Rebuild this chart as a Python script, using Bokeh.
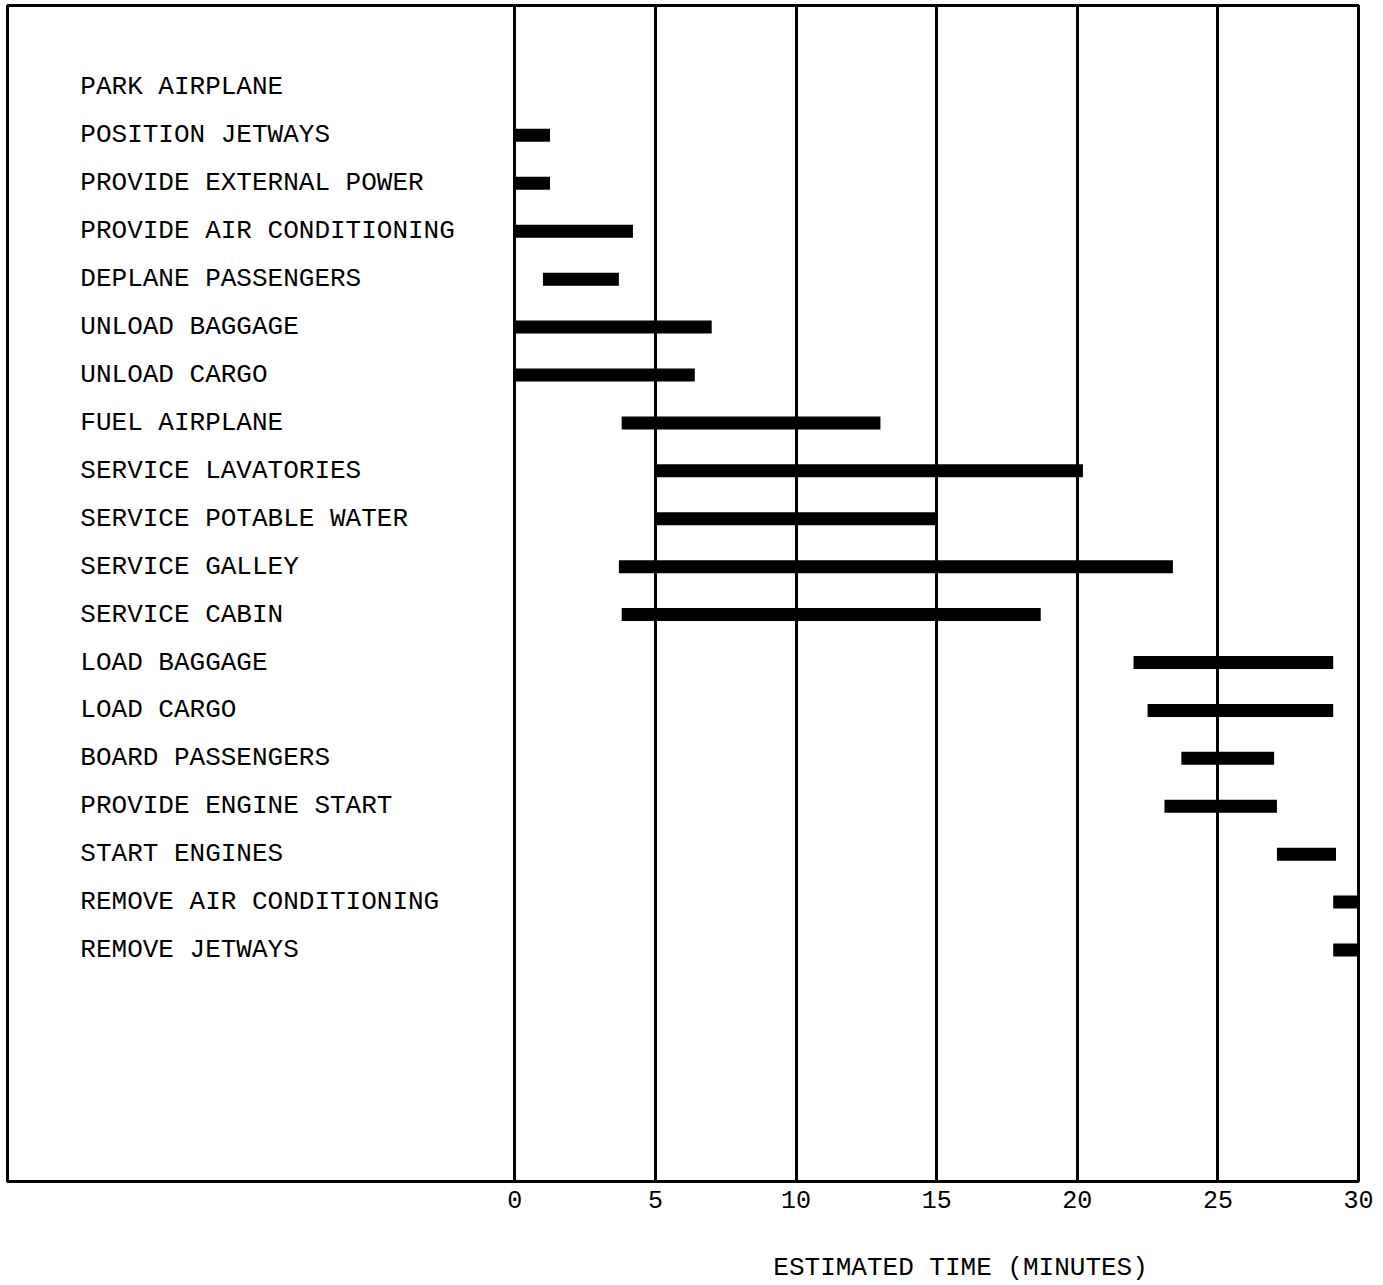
from bokeh.plotting import figure
from bokeh.models import Range1d, FixedTicker, ColumnDataSource, LinearAxis
from bokeh.core.properties import value
from bokeh.embed import file_html
from bokeh.resources import INLINE

tasks = [
    "PARK AIRPLANE", "POSITION JETWAYS", "PROVIDE EXTERNAL POWER",
    "PROVIDE AIR CONDITIONING", "DEPLANE PASSENGERS", "UNLOAD BAGGAGE",
    "UNLOAD CARGO", "FUEL AIRPLANE", "SERVICE LAVATORIES",
    "SERVICE POTABLE WATER", "SERVICE GALLEY", "SERVICE CABIN",
    "LOAD BAGGAGE", "LOAD CARGO", "BOARD PASSENGERS",
    "PROVIDE ENGINE START", "START ENGINES", "REMOVE AIR CONDITIONING",
    "REMOVE JETWAYS",
]
start_min = [None, 0, 0, 0, 1.0, 0, 0, 3.8, 5.0, 5.0, 3.7, 3.8,
             22.0, 22.5, 23.7, 23.1, 27.1, 29.1, 29.1]
end_min = [None, 1.25, 1.25, 4.2, 3.7, 7.0, 6.4, 13.0, 20.2, 15.0, 23.4, 18.7,
           29.1, 29.1, 27.0, 27.1, 29.2, 30.0, 30.0]
time_ticks = [0, 5, 10, 15, 20, 25, 30]
x_title = "ESTIMATED TIME (MINUTES)"
x_title_at = 15.85

FONT = "Liberation Mono"

rows = list(range(len(tasks)))
bar_rows = [r for r in rows if start_min[r] is not None]
bars = ColumnDataSource(dict(
    y=bar_rows,
    x0=[start_min[r] for r in bar_rows],
    x1=[end_min[r] for r in bar_rows],
))
labels = ColumnDataSource(dict(y=rows, x=[-15.45] * len(rows), t=tasks))

p = figure(width=1380, height=1285, output_backend="svg", toolbar_location=None,
           x_range=Range1d(-18.04, 30), y_range=Range1d(22.83, -1.71),
           min_border_left=7, min_border_top=5, min_border_right=22,
           min_border_bottom=102)
p.background_fill_color = "white"
p.border_fill_color = "white"
p.outline_line_color = "black"
p.outline_line_width = 3

p.yaxis.visible = False
p.ygrid.visible = False

def style_axis(ax, standoff):
    ax.axis_line_color = None
    ax.major_tick_line_color = None
    ax.minor_tick_line_color = None
    ax.major_tick_in = 0
    ax.major_tick_out = 0
    ax.major_label_standoff = standoff
    ax.major_label_text_font = FONT
    ax.major_label_text_font_size = "25px"
    ax.major_label_text_color = "black"

p.xaxis.ticker = FixedTicker(ticks=time_ticks)
style_axis(p.xaxis[0], 9)

title_axis = LinearAxis(ticker=FixedTicker(ticks=[x_title_at]),
                        major_label_overrides={x_title_at: x_title})
style_axis(title_axis, 42)
title_axis.major_label_text_font_size = "26px"
p.add_layout(title_axis, "below")

p.xgrid.ticker = FixedTicker(ticks=time_ticks)
p.xgrid.grid_line_color = "black"
p.xgrid.grid_line_width = 3
p.xgrid.grid_line_alpha = 1

p.segment(x0="x0", y0="y", x1="x1", y1="y", source=bars,
          line_color="black", line_width=13, line_cap="butt")

p.text(x="x", y="y", text="t", source=labels,
       text_font=value(FONT), text_font_size="26px", text_color="black",
       text_baseline="middle", text_align="left")

open("out.html", "w").write(file_html(p, INLINE))
